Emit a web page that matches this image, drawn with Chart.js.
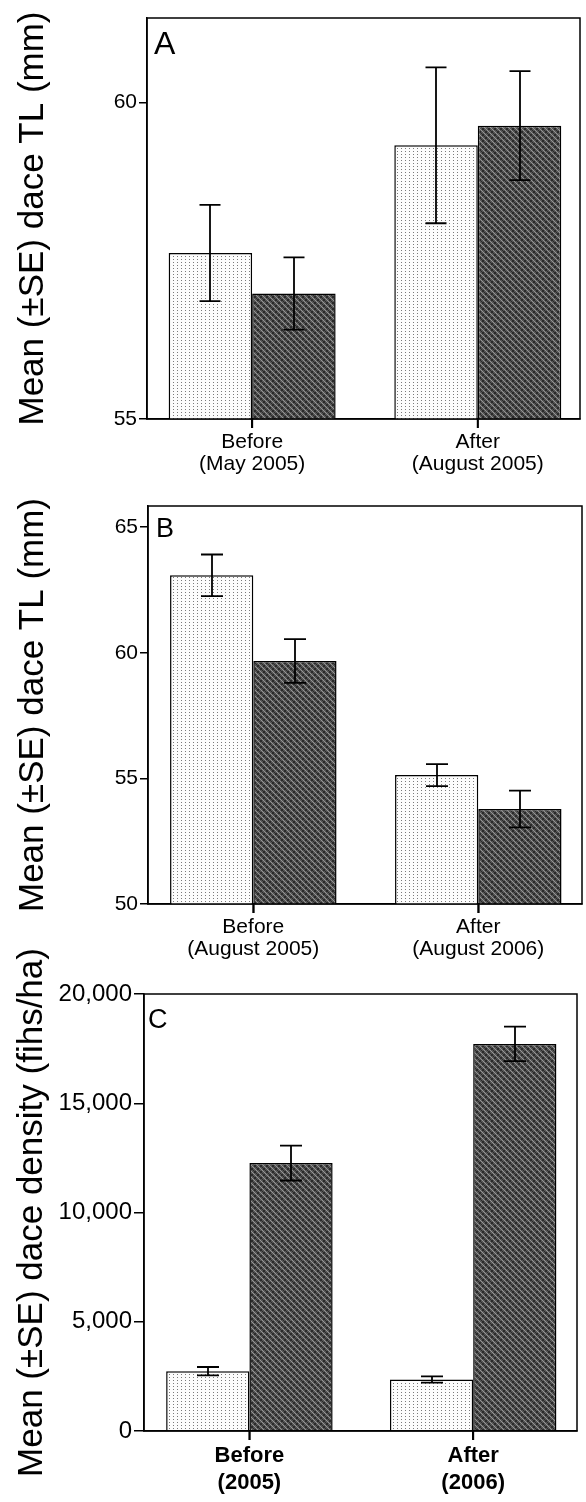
<!DOCTYPE html>
<html><head><meta charset="utf-8">
<script src="https://cdn.jsdelivr.net/npm/chart.js@4.4.0/dist/chart.umd.min.js"></script>
<style>
html,body{margin:0;padding:0;background:#fff;}
body{width:586px;height:1502px;position:relative;overflow:hidden;}
canvas{position:absolute;left:0;}
</style></head><body>
<canvas id="cA" width="586" height="479" style="top:0px"></canvas>
<canvas id="cB" width="586" height="484" style="top:480px"></canvas>
<canvas id="cC" width="586" height="567" style="top:935px"></canvas>
<script>
// ---- Panel A ----
const categoriesA = [["Before","(May 2005)"],["After","(August 2005)"]];
const lightMeanA = [57.62, 59.32];
const darkMeanA  = [56.98, 59.63];
const lightSeA   = [0.76, 1.23];
const darkSeA    = [0.57, 0.86];
const yTicksA = [55, 60];
const yTickLabelsA = ["55", "60"];

// ---- Panel B ----
const categoriesB = [["Before","(August 2005)"],["After","(August 2006)"]];
const lightMeanB = [63.08, 55.13];
const darkMeanB  = [59.67, 53.78];
const lightSeB   = [0.83, 0.44];
const darkSeB    = [0.87, 0.73];
const yTicksB = [50, 55, 60, 65];
const yTickLabelsB = ["50", "55", "60", "65"];

// ---- Panel C ----
const categoriesC = [["Before","(2005)"],["After","(2006)"]];
const lightMeanC = [2740, 2356];
const darkMeanC  = [12265, 17717];
const lightSeC   = [190, 145];
const darkSeC    = [800, 790];
const yTicksC = [0, 5000, 10000, 15000, 20000];
const yTickLabelsC = ["0", "5,000", "10,000", "15,000", "20,000"];

const FAMILY = "'Liberation Sans', Arial, sans-serif";

function lightPattern(ctx){
  const c = document.createElement('canvas'); c.width = 4; c.height = 3;
  const x = c.getContext('2d');
  x.fillStyle = '#fcfcfc'; x.fillRect(0,0,4,3);
  x.fillStyle = '#7a7a7a'; x.fillRect(1,1,1,1);
  return ctx.createPattern(c, 'repeat');
}
function darkPattern(ctx){
  const n = 6;
  const c = document.createElement('canvas'); c.width = n; c.height = n;
  const x = c.getContext('2d');
  x.fillStyle = '#545454'; x.fillRect(0,0,n,n);
  for (let i = 0; i < n; i++){
    x.fillStyle = '#2a2a2a';
    x.fillRect(i, i, 1, 1);
    x.fillRect(i, (n - 1 - i), 1, 1);
    x.fillStyle = '#959595';
    x.fillRect(i, (i + 3) % n, 1, 1);
  }
  return ctx.createPattern(c, 'repeat');
}

const deco = {
  id: 'deco',
  afterDatasetsDraw(chart, args, opts){
    const ctx = chart.ctx, y = chart.scales.y;
    ctx.save();
    ctx.strokeStyle = '#000'; ctx.lineWidth = 1.8;
    opts.se.forEach((seArr, di) => {
      const meta = chart.getDatasetMeta(di);
      const means = opts.means[di];
      meta.data.forEach((el, i) => {
        const m = means[i], s = seArr[i];
        const x = Math.round(el.x);
        const yt = y.getPixelForValue(m + s), yb = y.getPixelForValue(m - s);
        const hw = opts.cap / 2;
        ctx.beginPath();
        ctx.moveTo(x, yt); ctx.lineTo(x, yb);
        ctx.moveTo(x - hw, yt); ctx.lineTo(x + hw, yt);
        ctx.moveTo(x - hw, yb); ctx.lineTo(x + hw, yb);
        ctx.stroke();
      });
    });
    ctx.restore();
  },
  afterDraw(chart, args, opts){
    const a = chart.chartArea, ctx = chart.ctx, xs = chart.scales.x;
    ctx.save();
    ctx.strokeStyle = '#000'; ctx.lineWidth = 1.5;
    ctx.strokeRect(a.left, a.top, a.right - a.left, a.bottom - a.top);
    ctx.restore();
    // category tick marks below the x axis, at the scale position of each category
    ctx.save();
    ctx.strokeStyle = '#000000'; ctx.lineWidth = 2;
    const n = chart.getDatasetMeta(0).data.length;
    for (let i = 0; i < n; i++) {
      const px = xs.getPixelForValue(i);
      ctx.beginPath();
      ctx.moveTo(px, a.bottom);
      ctx.lineTo(px, a.bottom + 9);
      ctx.stroke();
    }
    ctx.restore();
    ctx.save();
    ctx.font = opts.letterSize + 'px ' + FAMILY;
    ctx.fillStyle = '#000'; ctx.textBaseline = 'alphabetic'; ctx.textAlign = 'left';
    ctx.fillText(opts.letter, a.left + opts.letterDx, a.top + opts.letterDy);
    ctx.restore();
  }
};

function makeChart(id, cats, light, dark, seL, seD, ticks, tickLabels, cfg){
  const ctx = document.getElementById(id).getContext('2d');
  const toXY = (arr) => arr.map((v, i) => ({ x: i, y: v }));
  return new Chart(ctx, {
    type: 'bar',
    data: { datasets: [
      { data: toXY(light), backgroundColor: lightPattern(ctx), borderColor: '#000', borderWidth: 1.5,
        categoryPercentage: cfg.cp, barPercentage: 1 },
      { data: toXY(dark), backgroundColor: darkPattern(ctx), borderColor: '#000', borderWidth: 1.5,
        categoryPercentage: cfg.cp, barPercentage: 1 }
    ]},
    options: {
      responsive: false, animation: false, devicePixelRatio: 1,
      layout: { padding: { top: cfg.padTop, right: cfg.padRight, left: 0, bottom: 0 } },
      plugins: {
        legend: { display: false }, tooltip: { enabled: false },
        deco: { se: [seL, seD], means: [light, dark], cap: cfg.cap, letter: cfg.letter,
                letterSize: cfg.letterSize, letterDx: cfg.letterDx, letterDy: cfg.letterDy }
      },
      scales: {
        x: {
          type: 'linear', min: cfg.xmin, max: cfg.xmax, offset: false,
          grid: { display: true, drawOnChartArea: false, drawTicks: true, tickLength: 9, offset: false,
                  color: '#000', lineWidth: 1.5 },
          border: { display: true, color: '#000', width: 1.5 },
          ticks: { color: '#000', font: { family: FAMILY, size: cfg.xFont, lineHeight: cfg.xLine, weight: cfg.xWeight },
                   padding: cfg.xPad, maxRotation: 0, autoSkip: false,
                   callback: (v) => (cats[v] !== undefined ? cats[v] : '') },
          afterBuildTicks(s){ s.ticks = cats.map((c, i) => ({ value: i })); },
          afterFit(s){ s.height = cfg.xh; }
        },
        y: {
          min: cfg.ymin, max: cfg.ymax,
          grid: { drawOnChartArea: false, drawTicks: true, tickLength: cfg.yTickLen, offset: false, color: '#000', lineWidth: 1.5 },
          border: { display: true, color: '#000', width: 1.5 },
          ticks: { color: '#000', font: { family: FAMILY, size: cfg.yFont }, padding: cfg.yPad,
                   callback: (v) => { const i = ticks.indexOf(v); return i >= 0 ? tickLabels[i] : ''; } },
          afterBuildTicks(s){ s.ticks = ticks.map(v => ({ value: v })); },
          afterFit(s){ s.width = cfg.yw; },
          title: { display: true, text: cfg.title, color: '#000',
                   font: { family: FAMILY, size: 35, lineHeight: 1.2 },
                   padding: { top: cfg.titlePad, bottom: 0 } }
        }
      }
    },
    plugins: [deco]
  });
}

makeChart('cA', categoriesA, lightMeanA, darkMeanA, lightSeA, darkSeA, yTicksA, yTickLabelsA, {
  ymin: 55, ymax: 61.33, xmin: -0.466, xmax: 1.453, cp: 0.74,
  padTop: 18, padRight: 6, yw: 147, xh: 60,
  xFont: 21, xLine: 1.05, xWeight: 'normal', xPad: 3, yFont: 21, yTickLen: 8, yPad: 2, titlePad: 12,
  title: 'Mean (\u00B1SE) dace TL (mm)', cap: 21, letter: 'A', letterSize: 32, letterDx: 7, letterDy: 36
});
makeChart('cB', categoriesB, lightMeanB, darkMeanB, lightSeB, darkSeB, yTicksB, yTickLabelsB, {
  ymin: 50, ymax: 65.84, xmin: -0.468, xmax: 1.461, cp: 0.74,
  padTop: 26, padRight: 4, yw: 148, xh: 60,
  xFont: 21, xLine: 1.05, xWeight: 'normal', xPad: 3, yFont: 21, yTickLen: 8, yPad: 2, titlePad: 12,
  title: 'Mean (\u00B1SE) dace TL (mm)', cap: 22, letter: 'B', letterSize: 27, letterDx: 8, letterDy: 31
});
makeChart('cC', categoriesC, lightMeanC, darkMeanC, lightSeC, darkSeC, yTicksC, yTickLabelsC, {
  ymin: 0, ymax: 20000, xmin: -0.471, xmax: 1.464, cp: 0.744,
  padTop: 59, padRight: 9, yw: 144, xh: 71,
  xFont: 22, xLine: 1.2, xWeight: 'bold', xPad: 3, yFont: 24, yTickLen: 10, yPad: 2, titlePad: 11,
  title: 'Mean (\u00B1SE) dace density (fihs/ha)', cap: 22, letter: 'C', letterSize: 27, letterDx: 4, letterDy: 34
});
</script>
</body></html>
